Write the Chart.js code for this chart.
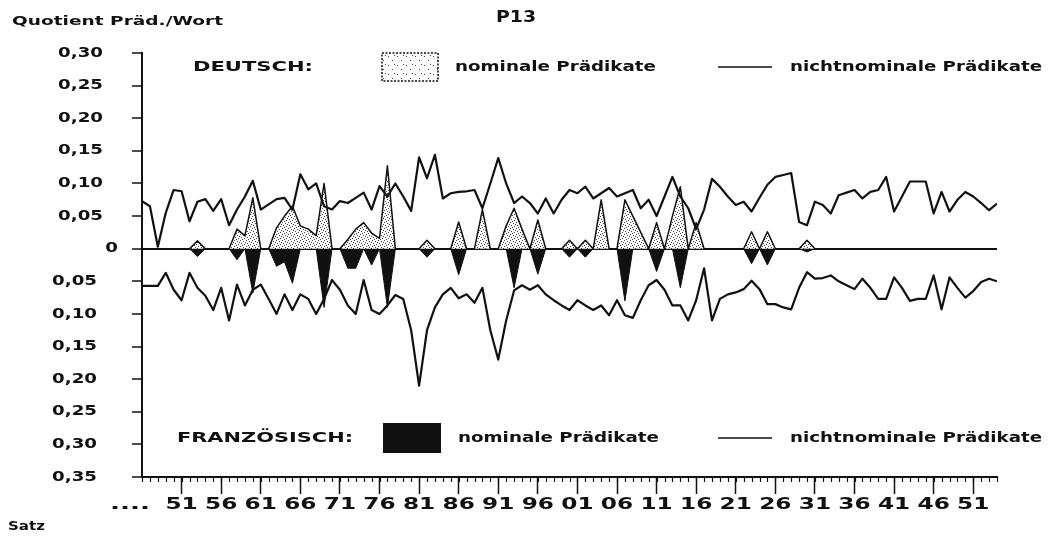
<!DOCTYPE html>
<html>
<head>
<meta charset="utf-8">
<title>P13</title>
<script src="https://cdn.jsdelivr.net/npm/chart.js@4.4.1/dist/chart.umd.min.js"></script>
<style>
  html, body { margin: 0; padding: 0; background: #fff; }
  canvas { display: block; }
</style>
</head>
<body>
<canvas id="c" width="1050" height="536"></canvas>
<script>
// Sentence positions 0..108, major ticks every 5 sentences
const xTickIndex = [5,10,15,20,25,30,35,40,45,50,55,60,65,70,75,80,85,90,95,100,105];
const xTickLabels = ['51','56','61','66','71','76','81','86','91','96','01','06','11','16','21','26','31','36','41','46','51'];
const yTickValues = [0.30,0.25,0.20,0.15,0.10,0.05,0,-0.05,-0.10,-0.15,-0.20,-0.25,-0.30,-0.35];
const yTickLabels = ['0,30','0,25','0,20','0,15','0,10','0,05','0','0,05','0,10','0,15','0,20','0,25','0,30','0,35'];

// DEUTSCH: nichtnominale Prädikate (quotient per sentence)
const deNichtnominal = [
  0.073,0.065,0.003,0.055,0.090,0.088,0.042,0.072,0.076,0.058,
  0.076,0.036,0.060,0.080,0.104,0.060,0.068,0.076,0.078,0.060,
  0.114,0.091,0.100,0.065,0.060,0.073,0.070,0.078,0.086,0.060,
  0.096,0.080,0.100,0.080,0.058,0.140,0.108,0.144,0.077,0.085,
  0.087,0.088,0.090,0.062,0.100,0.139,0.100,0.070,0.080,0.070,
  0.054,0.077,0.054,0.075,0.090,0.085,0.095,0.077,0.085,0.093,
  0.080,0.085,0.090,0.062,0.075,0.050,0.080,0.110,0.080,0.062,
  0.030,0.060,0.107,0.095,0.080,0.067,0.072,0.057,0.078,0.098,
  0.110,0.113,0.116,0.041,0.036,0.072,0.067,0.054,0.082,0.086,
  0.090,0.077,0.087,0.090,0.110,0.057,0.080,0.103,0.103,0.103,
  0.054,0.087,0.057,0.075,0.087,0.080,0.070,0.059,0.069
];
// DEUTSCH: nominale Prädikate
const deNominal = [
  0,0,0,0,0,0,0,0.012,0,0,
  0,0,0.030,0.020,0.078,0,0,0.032,0.050,0.065,
  0.035,0.030,0.020,0.100,0,0,0.014,0.030,0.040,0.024,
  0.016,0.127,0,0,0,0,0.013,0,0,0,
  0.041,0,0,0.060,0,0,0.035,0.062,0.030,0,
  0.044,0,0,0,0.013,0,0.013,0,0.075,0,
  0,0.075,0.050,0.025,0,0.040,0,0.050,0.095,0,
  0.040,0,0,0,0,0,0,0.026,0,0.026,
  0,0,0,0,0.013,0,0,0,0,0,
  0,0,0,0,0,0,0,0,0,0,
  0,0,0,0,0,0,0,0,0
];
// FRANZÖSISCH: nichtnominale Prädikate (drawn below the zero line)
const frNichtnominal = [
  -0.057,-0.057,-0.057,-0.037,-0.063,-0.079,-0.037,-0.060,-0.072,-0.094,
  -0.060,-0.110,-0.055,-0.087,-0.063,-0.055,-0.077,-0.100,-0.070,-0.094,
  -0.070,-0.077,-0.100,-0.077,-0.048,-0.063,-0.087,-0.100,-0.048,-0.094,
  -0.100,-0.087,-0.071,-0.077,-0.125,-0.210,-0.125,-0.090,-0.070,-0.060,
  -0.076,-0.070,-0.083,-0.060,-0.125,-0.170,-0.110,-0.064,-0.056,-0.063,
  -0.056,-0.070,-0.079,-0.087,-0.094,-0.079,-0.087,-0.094,-0.087,-0.102,
  -0.079,-0.102,-0.106,-0.079,-0.056,-0.048,-0.063,-0.087,-0.087,-0.110,
  -0.079,-0.030,-0.110,-0.077,-0.070,-0.067,-0.062,-0.049,-0.062,-0.085,
  -0.085,-0.090,-0.093,-0.060,-0.036,-0.046,-0.045,-0.041,-0.050,-0.056,
  -0.062,-0.046,-0.060,-0.077,-0.077,-0.044,-0.060,-0.080,-0.077,-0.077,
  -0.041,-0.093,-0.044,-0.060,-0.075,-0.065,-0.051,-0.046,-0.050
];
// FRANZÖSISCH: nominale Prädikate
const frNominal = [
  0,0,0,0,0,0,0,-0.012,0,0,
  0,0,-0.017,0,-0.068,0,0,-0.027,-0.020,-0.053,
  0,0,0,-0.090,0,0,-0.030,-0.030,0,-0.025,
  0,-0.090,0,0,0,0,-0.013,0,0,0,
  -0.040,0,0,0,0,0,0,-0.060,0,0,
  -0.039,0,0,0,-0.013,0,-0.013,0,0,0,
  0,-0.080,0,0,0,-0.035,0,0,-0.060,0,
  0,0,0,0,0,0,0,-0.023,0,-0.025,
  0,0,0,0,-0.005,0,0,0,0,0,
  0,0,0,0,0,0,0,0,0,0,
  0,0,0,0,0,0,0,0,0
];

const INK = '#111';
const FONT = '"DejaVu Sans", "Liberation Sans", sans-serif';
const canvas = document.getElementById('c');
const mainCtx = canvas.getContext('2d');

// stippled fill for the German nominal predicates
function stipplePattern(size, dots) {
  const p = document.createElement('canvas');
  p.width = size; p.height = size;
  const g = p.getContext('2d');
  g.fillStyle = '#fff';
  g.fillRect(0, 0, size, size);
  g.fillStyle = '#444';
  dots.forEach(([a, b]) => g.fillRect(a, b, 1, 1));
  return mainCtx.createPattern(p, 'repeat');
}
const stipple = stipplePattern(6, [[0,0],[3,1],[1,3],[4,4],[5,2],[2,5]]);
const stippleSparse = stipplePattern(9, [[1,2],[5,6],[7,1]]);

const toPoints = arr => arr.map((v, i) => ({ x: i, y: v }));

// bold, horizontally widened lettering
function wideText(ctx, text, x, y, opts) {
  const size = opts.size || 14;
  ctx.save();
  ctx.font = `bold ${size}px ${FONT}`;
  const w = ctx.measureText(text).width;
  const sx = opts.width ? opts.width / w : (opts.stretch || 1);
  const drawn = w * sx;
  let x0 = x;
  if (opts.align === 'center') x0 = x - drawn / 2;
  else if (opts.align === 'right') x0 = x - drawn;
  ctx.translate(x0, y);
  ctx.scale(sx, 1);
  ctx.textAlign = 'left';
  ctx.textBaseline = 'middle';
  ctx.fillStyle = INK;
  ctx.fillText(text, 0, 0);
  ctx.restore();
}

const decorations = {
  id: 'decorations',
  afterDraw(chart) {
    const { ctx, chartArea } = chart;
    const xs = chart.scales.x, ys = chart.scales.y;

    // minor ticks, one per sentence
    ctx.save();
    ctx.strokeStyle = INK;
    ctx.lineWidth = 1.2;
    ctx.beginPath();
    for (let i = 0; i < deNichtnominal.length; i++) {
      const px = Math.round(xs.getPixelForValue(i)) + 0.5;
      ctx.moveTo(px, chartArea.bottom);
      ctx.lineTo(px, chartArea.bottom + 5);
    }
    ctx.stroke();
    ctx.restore();

    // y tick labels
    yTickValues.forEach((v, k) => {
      const py = ys.getPixelForValue(v);
      const right = v > 0 ? 103 : (v === 0 ? 118 : 97);
      wideText(ctx, yTickLabels[k], right, py, { size: 14, stretch: 1.3, align: 'right' });
    });

    // x tick labels
    const ly = chartArea.bottom + 28;
    xTickIndex.forEach((idx, k) => {
      wideText(ctx, xTickLabels[k], xs.getPixelForValue(idx), ly, { size: 16, stretch: 1.45, align: 'center' });
    });
    wideText(ctx, '....', 150, ly, { size: 16, width: 40, align: 'right' });

    // titles
    wideText(ctx, 'Quotient Präd./Wort', 12, 22, { size: 13, width: 211 });
    wideText(ctx, 'P13', 516, 18, { size: 16, width: 40, align: 'center' });
    wideText(ctx, 'Satz', 8, 527, { size: 13, width: 37 });

    // legend: DEUTSCH
    const rowDe = 67, rowFr = 438;
    wideText(ctx, 'DEUTSCH:', 193, rowDe, { size: 14, width: 120 });
    ctx.save();
    ctx.fillStyle = stippleSparse;
    ctx.fillRect(382, 53, 56, 28);
    ctx.strokeStyle = INK;
    ctx.lineWidth = 1.5;
    ctx.setLineDash([2, 1.5]);
    ctx.strokeRect(382, 53, 56, 28);
    ctx.restore();
    wideText(ctx, 'nominale Prädikate', 455, rowDe, { size: 14, width: 201 });
    ctx.save();
    ctx.strokeStyle = INK;
    ctx.lineWidth = 1.6;
    ctx.beginPath();
    ctx.moveTo(718, rowDe); ctx.lineTo(772, rowDe);
    ctx.moveTo(718, rowFr); ctx.lineTo(772, rowFr);
    ctx.stroke();
    ctx.restore();
    wideText(ctx, 'nichtnominale Prädikate', 790, rowDe, { size: 14, width: 252 });

    // legend: FRANZÖSISCH
    wideText(ctx, 'FRANZÖSISCH:', 177, rowFr, { size: 14, width: 176 });
    ctx.save();
    ctx.fillStyle = INK;
    ctx.fillRect(383, 423, 58, 30);
    ctx.restore();
    wideText(ctx, 'nominale Prädikate', 458, rowFr, { size: 14, width: 201 });
    wideText(ctx, 'nichtnominale Prädikate', 790, rowFr, { size: 14, width: 252 });
  }
};

const lineStyle = { pointRadius: 0, tension: 0, borderColor: INK, borderWidth: 2.2, borderJoinStyle: 'round' };

new Chart(canvas, {
  type: 'line',
  data: {
    datasets: [
      Object.assign({ label: 'DEUTSCH: nichtnominale Prädikate', data: toPoints(deNichtnominal), fill: false }, lineStyle),
      Object.assign({ label: 'FRANZÖSISCH: nichtnominale Prädikate', data: toPoints(frNichtnominal), fill: false }, lineStyle),
      Object.assign({}, lineStyle, { label: 'DEUTSCH: nominale Prädikate', data: toPoints(deNominal), fill: 'origin', backgroundColor: stipple, borderWidth: 1.5 }),
      Object.assign({}, lineStyle, { label: 'FRANZÖSISCH: nominale Prädikate', data: toPoints(frNominal), fill: 'origin', backgroundColor: INK, borderWidth: 1 })
    ]
  },
  options: {
    responsive: false,
    devicePixelRatio: 1,
    animation: false,
    layout: { padding: { left: 132, right: 53, top: 53, bottom: 42 } },
    plugins: { legend: { display: false }, tooltip: { enabled: false }, title: { display: false } },
    scales: {
      x: {
        type: 'linear',
        min: 0,
        max: deNichtnominal.length - 1,
        afterBuildTicks: s => { s.ticks = xTickIndex.map(v => ({ value: v })); },
        ticks: { display: false },
        grid: { display: true, drawOnChartArea: false, drawTicks: true, tickLength: 17, tickColor: INK, tickWidth: 1.5 },
        border: { display: true, color: INK, width: 2 }
      },
      y: {
        type: 'linear',
        min: -0.35,
        max: 0.30,
        afterBuildTicks: s => { s.ticks = yTickValues.map(v => ({ value: v })); },
        ticks: { display: false },
        grid: {
          display: true,
          drawOnChartArea: true,
          drawTicks: true,
          tickLength: 10,
          tickColor: INK,
          tickWidth: 1.5,
          color: c => (c.tick && Math.abs(c.tick.value) < 1e-9 ? INK : 'rgba(0,0,0,0)'),
          lineWidth: c => (c.tick && Math.abs(c.tick.value) < 1e-9 ? 2 : 0)
        },
        border: { display: true, color: INK, width: 2 }
      }
    }
  },
  plugins: [decorations]
});
</script>
</body>
</html>
